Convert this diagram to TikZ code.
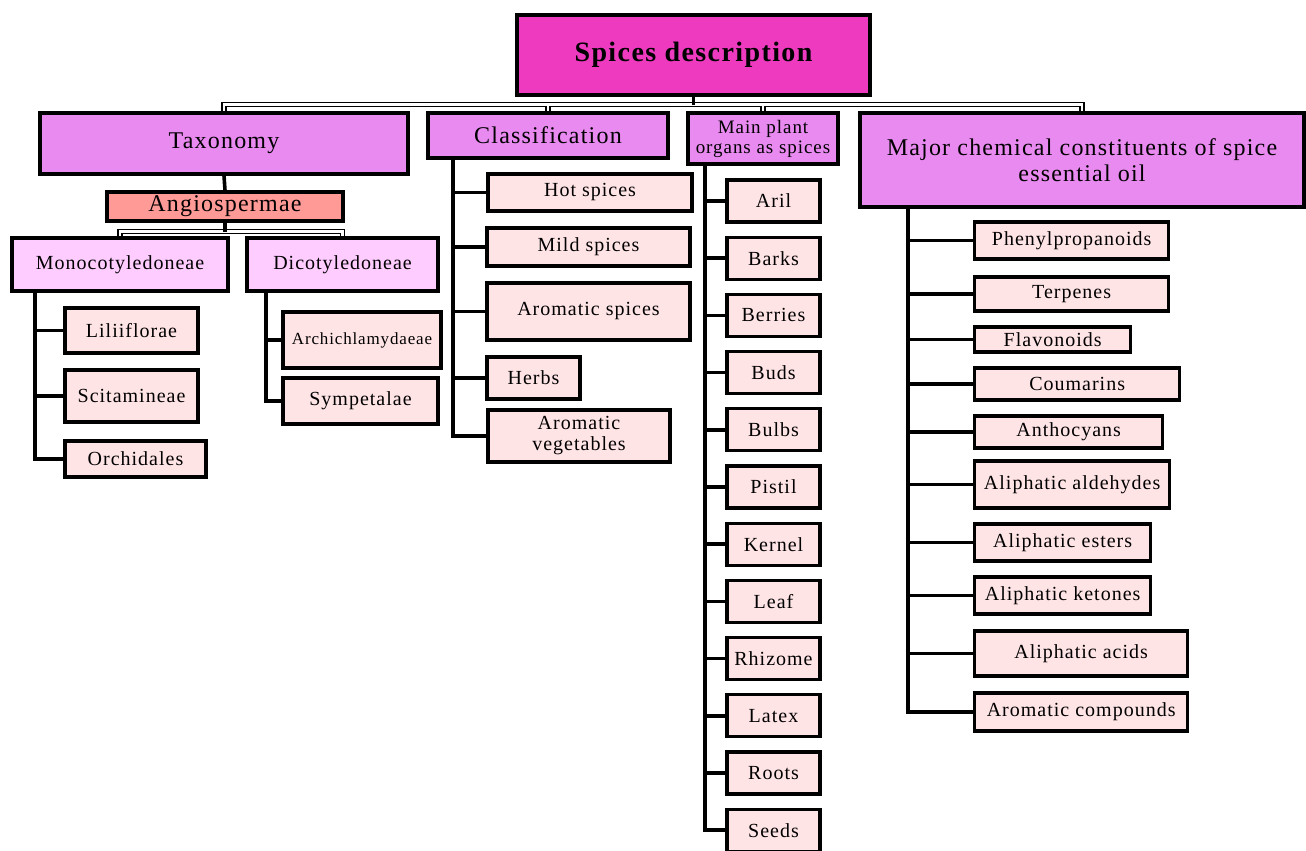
\documentclass[tikz,border=0pt]{standalone}
\usepackage{fontspec}
\setmainfont[LetterSpace=5]{Liberation Serif}
\usetikzlibrary{backgrounds}

\definecolor{rootfill}{HTML}{EE3ABF}
\definecolor{catfill}{HTML}{E88AEF}
\definecolor{angfill}{HTML}{FF9A97}
\definecolor{groupfill}{HTML}{FFCCFF}
\definecolor{itemfill}{HTML}{FFE4E6}

\tikzset{
  box/.style={draw=black, line width=3.3pt, inner sep=0pt, align=center},
  rootbox/.style={box, fill=rootfill, font=\fontsize{28}{32}\selectfont\bfseries},
  catbox/.style={box, fill=catfill, font=\fontsize{24}{26}\selectfont},
  angbox/.style={box, fill=angfill, font=\fontsize{24}{26}\selectfont},
  groupbox/.style={box, fill=groupfill, font=\fontsize{20}{22}\selectfont},
  itembox/.style={box, fill=itemfill, font=\fontsize{20}{21}\selectfont},
  spine/.style={line width=3.6pt}
}

\begin{document}
\begin{tikzpicture}[x=1pt,y=-1pt]
\useasboundingbox (0,0) rectangle (1306,851);
\coordinate (bus) at (0,104.5);
\coordinate (angbus) at (0,231.5);
% Draw root
\node[rootbox, minimum width=353, minimum height=80] (root) at (693.5,55) {Spices description};
% Draw first level
\node[catbox, minimum width=368, minimum height=61] (tax) at (224,143.5) {Taxonomy};
\node[catbox, minimum width=240, minimum height=45] (class) at (548,135.5) {Classification};
\node[catbox, font=\fontsize{19}{20}\selectfont, minimum width=150, minimum height=51] (organ) at (763,138.5) {Main plant\\organs as spices};
\node[catbox, minimum width=444, minimum height=94] (chem) at (1082,160) {Major chemical constituents of spice\\essential oil};
% Taxonomy branch
\node[angbox, minimum width=236, minimum height=29] (angio) at (225,206.5) {Angiospermae};
\node[groupbox, minimum width=216, minimum height=53] (mono) at (120,264.5) {Monocotyledoneae};
\node[groupbox, minimum width=191, minimum height=53] (dico) at (342.5,264.5) {Dicotyledoneae};
\node[itembox, minimum width=133, minimum height=45] (lili) at (131.5,330.5) {Liliiflorae};
\node[itembox, minimum width=133, minimum height=52] (scit) at (131.5,396) {Scitamineae};
\node[itembox, minimum width=141, minimum height=36] (orch) at (135.5,459) {Orchidales};
\node[itembox, font=\fontsize{17}{18}\selectfont, minimum width=158, minimum height=56] (arch) at (362,340) {Archichlamydaeae};
\node[itembox, minimum width=155, minimum height=46] (symp) at (360.5,401) {Sympetalae};
% Classification branch
\node[itembox, minimum width=204, minimum height=37] (hot) at (590,192.5) {Hot spices};
\node[itembox, minimum width=203, minimum height=38] (mild) at (588.5,247) {Mild spices};
\node[itembox, minimum width=203, minimum height=57] (arom) at (588.5,311.5) {Aromatic spices};
\node[itembox, minimum width=93, minimum height=42] (herbs) at (533.5,378) {Herbs};
\node[itembox, minimum width=182, minimum height=52] (veg) at (579,436) {Aromatic\\vegetables};
% Plant organs branch
\foreach \name [count=\i from 0] in {Aril,Barks,Berries,Buds,Bulbs,Pistil,Kernel,Leaf,Rhizome,Latex,Roots,Seeds}
  \node[itembox, minimum width=93, minimum height=42] (org\i) at (773.5,{201+57.2*\i}) {\name};
% Chemical constituents branch
\foreach \name/\w/\h/\y [count=\i] in {Phenylpropanoids/194/37/240.5, Terpenes/194/34/294, Flavonoids/156/25/339.5, Coumarins/205/32/384, Anthocyans/188/32/432, Aliphatic aldehydes/195/47/484.5, Aliphatic esters/176/37/542.5, Aliphatic ketones/176/37/595.5, Aliphatic acids/213/45/653.5, Aromatic compounds/213/38/712}
  \node[itembox, anchor=west, minimum width=\w, minimum height=\h] (chm\i) at (973,\y) {\name};
% Spine start points
\path (mono.south) ++(-85,0) coordinate (mspine);
\path (dico.south) ++(-76.5,0) coordinate (dspine);
\path (class.south) ++(-95,0) coordinate (cspine);
\path (organ.south) ++(-58,0) coordinate (ospine);
\path (chem.south) ++(-174,0) coordinate (chspine);

\begin{scope}[on background layer]
% Draw hollow bus lines
\foreach \lw/\col in {5.5/black,2.5/white} {
  \draw[line width=\lw pt, \col] (tax.north) |- (chem.north |- bus) -- (chem.north);
  \draw[line width=\lw pt, \col] (class.north) -- (class.north |- bus);
  \draw[line width=\lw pt, \col] (organ.north) -- (organ.north |- bus);
  \draw[line width=\lw pt, \col] (mono.north) |- (dico.north |- angbus) -- (dico.north);
}
\draw[spine] (root.south) -- (root.south |- bus);
\draw[spine] (tax.south) -- (angio.north);
\draw[spine] (angio.south) -- (angio.south |- angbus);
% Draw spines and branches
\draw[spine] (mspine) |- (orch.west);
\foreach \n in {lili,scit} \draw[spine] (mspine |- \n) -- (\n.west);
\draw[spine] (dspine) |- (symp.west);
\draw[spine] (dspine |- arch) -- (arch.west);
\draw[spine] (cspine) |- (veg.west);
\foreach \n in {hot,mild,arom,herbs} \draw[spine] (cspine |- \n) -- (\n.west);
\draw[spine] (ospine) |- (org11.west);
\foreach \i in {0,...,10} \draw[spine] (ospine |- org\i) -- (org\i.west);
\draw[spine] (chspine) |- (chm10.west);
\foreach \i in {1,...,9} \draw[spine] (chspine |- chm\i) -- (chm\i.west);
\end{scope}
\end{tikzpicture}
\end{document}
